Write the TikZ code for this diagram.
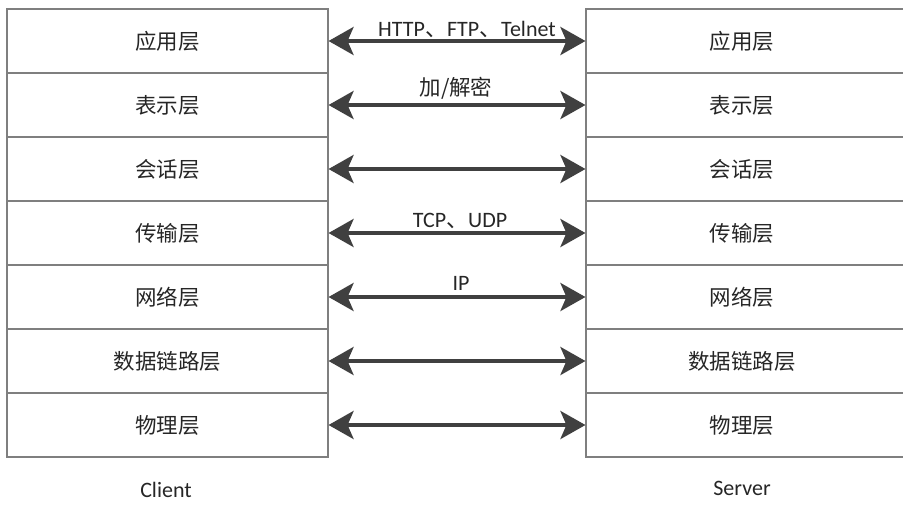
\documentclass[tikz,border=0pt]{standalone}
\usepackage{fontspec}
\setmainfont{Carlito}
\newfontfamily\cjk{Noto Sans CJK SC}
\usetikzlibrary{arrows.meta}
\definecolor{boxline}{HTML}{7F7F7F}
\definecolor{arrowcol}{HTML}{404040}
\definecolor{txt}{HTML}{262626}
\tikzset{
  layer/.style={draw=boxline, line width=1.1pt, minimum height=64pt,
    inner sep=0pt, font=\cjk\fontsize{21.5}{21.5}\selectfont, text=txt},
  proto/.style={arrowcol, line width=4pt,
    {Stealth[length=25pt,width=28pt,inset=6pt]}-{Stealth[length=25pt,width=28pt,inset=6pt]}},
  plabel/.style={anchor=base, inner sep=0pt, text=txt, font=\fontsize{22}{22}\selectfont},
  side/.style={anchor=base, inner sep=0pt, text=txt, font=\fontsize{22}{22}\selectfont}
}
\begin{document}
\begin{tikzpicture}[x=1pt,y=-1pt]
\useasboundingbox (0,0) rectangle (903,504);
\clip (0,0) rectangle (903,504);
% protocol stacks of the two hosts
\foreach \i/\name in {1/应用层,2/表示层,3/会话层,4/传输层,5/网络层,6/数据链路层,7/物理层}{
  \node[layer, minimum width=321pt] (c\i) at (167.5, {9+64*(\i-1)+32}) {\name};
  \node[layer, minimum width=330pt] (s\i) at (751, {9+64*(\i-1)+32}) {};
  \node[font=\cjk\fontsize{21.5}{21.5}\selectfont, text=txt] (t\i) at (742, {9+64*(\i-1)+32}) {\name};
}
% peer-to-peer communication between matching layers
\foreach \i in {1,...,7}{
  \draw[proto] (c\i.east) -- (s\i.west);
}
\node[plabel] (l1) at (467, 36) {HTTP{\cjk 、}FTP{\cjk 、}Telnet};
\node[plabel, font=\cjk\fontsize{21.5}{21.5}\selectfont] (l2) at (456, 95) {加/解密};
\node[plabel] (l4) at (460, 227) {TCP{\cjk 、}UDP};
\node[plabel] (l5) at (461, 290) {IP};
\node[side] (client) at (166, 497) {Client};
\node[side] (server) at (742, 495) {Server};
\end{tikzpicture}
\end{document}
